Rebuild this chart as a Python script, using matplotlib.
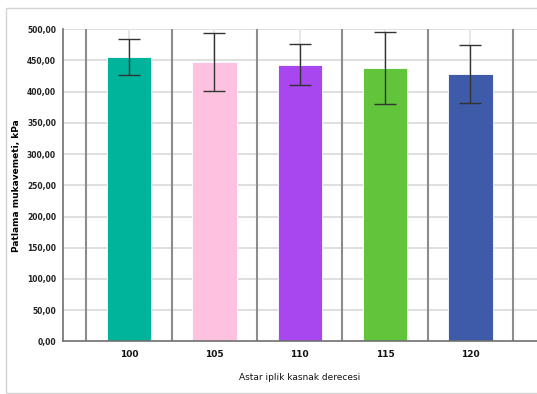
import matplotlib.pyplot as plt
from matplotlib.patches import Rectangle
from matplotlib.ticker import FuncFormatter

categories = ["100", "105", "110", "115", "120"]
means = [456.0, 447.5, 443.0, 438.5, 429.0]
errors = [28.5, 46.5, 33.0, 57.5, 46.5]
colors = ["#00B39B", "#FEC2E0", "#A846F0", "#61C43A", "#3E5BAA"]

fig = plt.figure(figsize=(5.37, 3.94), dpi=100)
ax = fig.add_axes([63 / 537, 1 - 341.3 / 394, 1 - 63 / 537, (341.3 - 29.3) / 394])

# light frame round the whole chart
fig.patches.append(Rectangle((6 / 537, 1 - 393 / 394), 1.0, (393 - 8) / 394,
                             transform=fig.transFigure, fill=False,
                             edgecolor="#d4d4d4", linewidth=1.0))

x = list(range(len(categories)))

ax.set_axisbelow(True)
for y in range(50, 501, 50):
    ax.axhline(y, color="#d9d9d9", linewidth=1.2, zorder=0)
for xi in x:
    ax.axvline(xi, color="#e3e3e3", linewidth=1.2, zorder=0)
for xb in [i - 0.5 for i in range(len(categories) + 1)]:
    ax.axvline(xb, color="#8c8c8c", linewidth=1.5, zorder=0.5)

ax.bar(x, means, width=0.52, color=colors, edgecolor="white", linewidth=0.6, zorder=2)
ax.errorbar(x, means, yerr=errors, fmt="none", ecolor="#333333", elinewidth=1.0,
            capsize=8, capthick=1.0, zorder=3)

ax.set_xlim(-0.773, 4.78)
ax.set_ylim(0, 500)
ax.set_yticks(range(0, 501, 50))
ax.yaxis.set_major_formatter(FuncFormatter(lambda v, p: f"{v:.2f}".replace(".", ",")))
ax.set_xticks(x)
ax.set_xticklabels(categories)

for side in ["top", "right"]:
    ax.spines[side].set_visible(False)
for side in ["left", "bottom"]:
    ax.spines[side].set_color("#707070")
    ax.spines[side].set_linewidth(1.2)

ax.tick_params(axis="y", length=0, pad=5, labelsize=5.5, labelcolor="#222222")
ax.tick_params(axis="x", length=0, pad=6, labelsize=6.5, labelcolor="#111111")
for lbl in ax.get_yticklabels() + ax.get_xticklabels():
    lbl.set_fontweight("bold")

ax.set_ylabel("Patlama mukavemeti, kPa", fontsize=6.5, fontweight="bold")
ax.yaxis.set_label_coords(-0.089, 0.5)
fig.text(300 / 537, 1 - 377 / 394, "Astar iplik kasnak derecesi", fontsize=6.5,
         ha="center", va="center", color="#111111")

fig.savefig("out.png", dpi=100)
